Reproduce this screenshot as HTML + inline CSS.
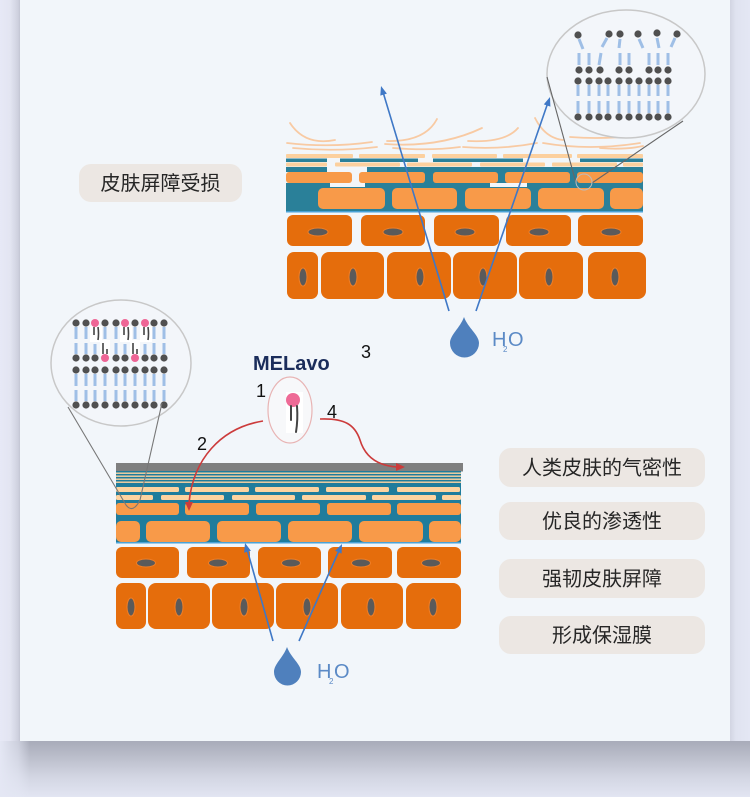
<!DOCTYPE html>
<html><head><meta charset="utf-8">
<style>
html,body{margin:0;padding:0;}
body{width:750px;height:797px;overflow:hidden;background:#e4e7f4;position:relative;font-family:"Liberation Sans","Noto Sans CJK SC",sans-serif;}
#lft{position:absolute;left:0;top:0;width:20px;height:741px;background:linear-gradient(to right,#e7e9f6 0%,#e3e5f2 50%,#d0d2e0 88%,#c4c6d4 100%);}
#rgt{position:absolute;left:730px;top:0;width:20px;height:741px;background:linear-gradient(to left,#e4e7f4 0%,#e0e3f0 70%,#d2d5e2 100%);}
#bot{position:absolute;left:0;top:741px;width:750px;height:56px;background:linear-gradient(to bottom,#a8abb9 0%,#bcbfcc 30%,#d3d6e3 65%,#e2e5f2 100%);}
#botl{position:absolute;left:0;top:741px;width:30px;height:56px;background:linear-gradient(to right,#e4e7f4 0%,rgba(228,231,244,0.6) 60%,rgba(228,231,244,0) 100%);}
#card{position:absolute;left:20px;top:0;width:710px;height:741px;background:#f2f6fa;}
svg{position:absolute;left:0;top:0;}
.lbl{font-family:"Liberation Sans","Noto Sans CJK SC",sans-serif;font-size:20px;fill:#262626;}
.num{font-family:"Liberation Sans",sans-serif;font-size:18px;fill:#111;}
</style></head>
<body>
<div id="lft"></div><div id="rgt"></div><div id="bot"></div><div id="botl"></div>
<div id="card"></div>
<svg width="750" height="797" viewBox="0 0 750 797" xmlns="http://www.w3.org/2000/svg">

<!-- ===== TOP DIAGRAM ===== -->
<g fill="none" stroke="#f8caa3" stroke-width="1.8" stroke-linecap="round">
<path d="M290,123 Q305,146 335,140"/>
<path d="M287,143 Q330,148 372,142"/>
<path d="M293,148 Q335,152 377,147"/>
<path d="M387,141 Q425,142 437,119"/>
<path d="M385,144 Q440,148 482,128"/>
<path d="M393,148 Q430,151 460,147"/>
<path d="M468,141 Q505,143 518,128"/>
<path d="M463,147 Q500,150 537,143"/>
<path d="M535,118 Q545,138 563,140"/>
<path d="M543,143 Q590,151 640,143"/>
<path d="M570,137 Q610,140 642,134"/>
<path d="M600,148 Q625,150 643,146"/>
</g>

<g fill="#fcd09e">
<rect x="286" y="154" width="67" height="4" rx="1"/>
<rect x="359" y="154" width="66" height="4" rx="1"/>
<rect x="432" y="154" width="65" height="4" rx="1"/>
<rect x="503" y="154" width="69" height="4" rx="1"/>
<rect x="577" y="154" width="66" height="4" rx="1"/>
</g>
<g fill="#2a8099">
<rect x="286" y="158.5" width="41" height="3.5"/>
<rect x="340" y="158.5" width="78" height="3.5"/>
<rect x="433" y="158.5" width="90" height="3.5"/>
<rect x="580" y="158.5" width="63" height="3.5"/>
<rect x="286" y="167" width="41" height="5"/>
<rect x="367" y="167" width="276" height="16"/>
</g>
<g fill="#fcd09e">
<rect x="286" y="162.5" width="41" height="4" rx="1"/>
<rect x="335" y="162.5" width="65" height="4" rx="1"/>
<rect x="407" y="162.5" width="65" height="4" rx="1"/>
<rect x="480" y="162.5" width="65" height="4" rx="1"/>
<rect x="552" y="162.5" width="65" height="4" rx="1"/>
<rect x="623" y="162.5" width="20" height="4" rx="1"/>
</g>
<rect x="286" y="183" width="357" height="29" fill="#2a8099"/>
<rect x="330" y="183" width="35" height="4" fill="#f2f6fa"/>
<rect x="490" y="183" width="37" height="4" fill="#f2f6fa"/>
<rect x="286" y="211" width="357" height="1.5" fill="#4aa2d6"/>
<g fill="#f89a49">
<rect x="286" y="172" width="66" height="11" rx="3"/>
<rect x="359" y="172" width="66" height="11" rx="3"/>
<rect x="433" y="172" width="65" height="11" rx="3"/>
<rect x="505" y="172" width="65" height="11" rx="3"/>
<rect x="577" y="172" width="66" height="11" rx="3"/>
<rect x="318" y="188" width="67" height="21" rx="5"/>
<rect x="392" y="188" width="65" height="21" rx="5"/>
<rect x="465" y="188" width="66" height="21" rx="5"/>
<rect x="538" y="188" width="66" height="21" rx="5"/>
<rect x="610" y="188" width="33" height="21" rx="5"/>
</g>
<g fill="#e56d0c">
<rect x="287" y="215" width="65" height="31" rx="6"/>
<rect x="361" y="215" width="64" height="31" rx="6"/>
<rect x="434" y="215" width="65" height="31" rx="6"/>
<rect x="506" y="215" width="65" height="31" rx="6"/>
<rect x="578" y="215" width="65" height="31" rx="6"/>
<rect x="287" y="252" width="31" height="47" rx="7"/>
<rect x="321" y="252" width="63" height="47" rx="8"/>
<rect x="387" y="252" width="64" height="47" rx="8"/>
<rect x="453" y="252" width="64" height="47" rx="8"/>
<rect x="519" y="252" width="64" height="47" rx="8"/>
<rect x="588" y="252" width="58" height="47" rx="8"/>
</g>
<g fill="#5a5a5a" stroke="#f07e26" stroke-width="1">
<ellipse cx="318" cy="232" rx="10" ry="4"/>
<ellipse cx="393" cy="232" rx="10" ry="4"/>
<ellipse cx="465" cy="232" rx="10" ry="4"/>
<ellipse cx="539" cy="232" rx="10" ry="4"/>
<ellipse cx="611" cy="232" rx="10" ry="4"/>
<ellipse cx="303" cy="277" rx="4" ry="9"/>
<ellipse cx="353" cy="277" rx="4" ry="9"/>
<ellipse cx="420" cy="277" rx="4" ry="9"/>
<ellipse cx="483" cy="277" rx="4" ry="9"/>
<ellipse cx="549" cy="277" rx="4" ry="9"/>
<ellipse cx="615" cy="277" rx="4" ry="9"/>
</g>

<!-- top magnifier -->
<ellipse cx="626" cy="74" rx="79" ry="64" fill="#f3f6fa" stroke="#c8c8c8" stroke-width="1.5"/>
<line x1="547" y1="77" x2="576" y2="183" stroke="#666" stroke-width="1.1"/>
<line x1="683" y1="121" x2="592" y2="183" stroke="#666" stroke-width="1.1"/>
<circle cx="584" cy="182" r="8" fill="none" stroke="#bdbdbd" stroke-width="1"/>
<g stroke="#9fbfe6" stroke-width="3">
<line x1="578" y1="85" x2="578" y2="96"/><line x1="578" y1="101" x2="578" y2="113"/>
<line x1="589" y1="85" x2="589" y2="96"/><line x1="589" y1="101" x2="589" y2="113"/>
<line x1="599" y1="85" x2="599" y2="96"/><line x1="599" y1="101" x2="599" y2="113"/>
<line x1="608" y1="85" x2="608" y2="96"/><line x1="608" y1="101" x2="608" y2="113"/>
<line x1="619" y1="85" x2="619" y2="96"/><line x1="619" y1="101" x2="619" y2="113"/>
<line x1="629" y1="85" x2="629" y2="96"/><line x1="629" y1="101" x2="629" y2="113"/>
<line x1="639" y1="85" x2="639" y2="96"/><line x1="639" y1="101" x2="639" y2="113"/>
<line x1="649" y1="85" x2="649" y2="96"/><line x1="649" y1="101" x2="649" y2="113"/>
<line x1="658" y1="85" x2="658" y2="96"/><line x1="658" y1="101" x2="658" y2="113"/>
<line x1="668" y1="85" x2="668" y2="96"/><line x1="668" y1="101" x2="668" y2="113"/>
<line x1="579" y1="53" x2="579" y2="65"/>
<line x1="589" y1="53" x2="589" y2="65"/>
<line x1="601" y1="53" x2="599" y2="65"/>
<line x1="620" y1="53" x2="620" y2="65"/>
<line x1="629" y1="53" x2="629" y2="65"/>
<line x1="649" y1="53" x2="649" y2="65"/>
<line x1="658" y1="53" x2="658" y2="65"/>
<line x1="668" y1="53" x2="668" y2="65"/>
<line x1="579" y1="39" x2="583" y2="49"/>
<line x1="607" y1="38" x2="602" y2="47"/>
<line x1="620" y1="39" x2="619" y2="48"/>
<line x1="639" y1="39" x2="643" y2="48"/>
<line x1="657" y1="38" x2="659" y2="48"/>
<line x1="675" y1="38" x2="671" y2="47"/>
</g>
<g fill="#505050">
<circle cx="578" cy="117" r="3.6"/><circle cx="589" cy="117" r="3.6"/><circle cx="599" cy="117" r="3.6"/><circle cx="608" cy="117" r="3.6"/><circle cx="619" cy="117" r="3.6"/><circle cx="629" cy="117" r="3.6"/><circle cx="639" cy="117" r="3.6"/><circle cx="649" cy="117" r="3.6"/><circle cx="658" cy="117" r="3.6"/><circle cx="668" cy="117" r="3.6"/>
<circle cx="578" cy="81" r="3.6"/><circle cx="589" cy="81" r="3.6"/><circle cx="599" cy="81" r="3.6"/><circle cx="608" cy="81" r="3.6"/><circle cx="619" cy="81" r="3.6"/><circle cx="629" cy="81" r="3.6"/><circle cx="639" cy="81" r="3.6"/><circle cx="649" cy="81" r="3.6"/><circle cx="658" cy="81" r="3.6"/><circle cx="668" cy="81" r="3.6"/>
<circle cx="579" cy="70" r="3.6"/><circle cx="589" cy="70" r="3.6"/><circle cx="600" cy="70" r="3.6"/><circle cx="619" cy="70" r="3.6"/><circle cx="629" cy="70" r="3.6"/><circle cx="649" cy="70" r="3.6"/><circle cx="658" cy="70" r="3.6"/><circle cx="668" cy="70" r="3.6"/>
<circle cx="578" cy="35" r="3.6"/><circle cx="609" cy="34" r="3.6"/><circle cx="620" cy="34" r="3.6"/><circle cx="638" cy="34" r="3.6"/><circle cx="657" cy="33" r="3.6"/><circle cx="677" cy="34" r="3.6"/>
</g>

<!-- top blue arrows -->
<g stroke="#3f78c6" stroke-width="1.6">
<line x1="449" y1="311" x2="383.6" y2="94"/>
<line x1="476" y1="311" x2="547.1" y2="105"/>
</g>
<g fill="#3f78c6">
<polygon points="381,86 386.9,93.6 380.3,95.6"/>
<polygon points="550,97 550.4,106.6 543.8,104.4"/>
</g>
<path d="M464,317 C460,328 450,335 450,343 A14.5,14.5 0 0 0 479,343 C479,335 468,328 464,317 Z" fill="#4f80bd"/>
<text x="492" y="346" font-family="Liberation Sans,sans-serif" font-size="20" fill="#5b8ac6">H</text>
<text x="503" y="352" font-family="Liberation Sans,sans-serif" font-size="8" fill="#5b8ac6">2</text>
<text x="508" y="346" font-family="Liberation Sans,sans-serif" font-size="20" fill="#5b8ac6">O</text>

<text class="num" x="361" y="358">3</text>

<rect x="79" y="164" width="163" height="38" rx="12" fill="#ece7e3"/>
<text class="lbl" x="160.5" y="190" text-anchor="middle">皮肤屏障受损</text>

<!-- ===== BOTTOM DIAGRAM ===== -->
<ellipse cx="121" cy="363" rx="70" ry="63" fill="#f3f6fa" stroke="#c8c8c8" stroke-width="1.5"/>
<g fill="#fff">
<rect x="90" y="326" width="12" height="16"/>
<rect x="120" y="326" width="12" height="16"/>
<rect x="140" y="326" width="12" height="16"/>
<rect x="100" y="340" width="10" height="16"/>
<rect x="130" y="340" width="10" height="16"/>
</g>
<g stroke="#9fbfe6" stroke-width="3">
<line x1="76" y1="327" x2="76" y2="339"/><line x1="76" y1="343" x2="76" y2="354"/>
<line x1="86" y1="327" x2="86" y2="339"/><line x1="86" y1="343" x2="86" y2="354"/>
<line x1="105" y1="327" x2="105" y2="339"/>
<line x1="116" y1="327" x2="116" y2="339"/><line x1="116" y1="343" x2="116" y2="354"/>
<line x1="135" y1="327" x2="135" y2="339"/>
<line x1="154" y1="327" x2="154" y2="339"/><line x1="154" y1="343" x2="154" y2="354"/>
<line x1="164" y1="327" x2="164" y2="339"/><line x1="164" y1="343" x2="164" y2="354"/>
<line x1="95" y1="344" x2="95" y2="354"/>
<line x1="125" y1="344" x2="125" y2="354"/>
<line x1="145" y1="344" x2="145" y2="354"/>
<line x1="76" y1="374" x2="76" y2="386"/><line x1="76" y1="390" x2="76" y2="401"/>
<line x1="86" y1="374" x2="86" y2="386"/><line x1="86" y1="390" x2="86" y2="401"/>
<line x1="95" y1="374" x2="95" y2="386"/><line x1="95" y1="390" x2="95" y2="401"/>
<line x1="105" y1="374" x2="105" y2="386"/><line x1="105" y1="390" x2="105" y2="401"/>
<line x1="116" y1="374" x2="116" y2="386"/><line x1="116" y1="390" x2="116" y2="401"/>
<line x1="125" y1="374" x2="125" y2="386"/><line x1="125" y1="390" x2="125" y2="401"/>
<line x1="135" y1="374" x2="135" y2="386"/><line x1="135" y1="390" x2="135" y2="401"/>
<line x1="145" y1="374" x2="145" y2="386"/><line x1="145" y1="390" x2="145" y2="401"/>
<line x1="154" y1="374" x2="154" y2="386"/><line x1="154" y1="390" x2="154" y2="401"/>
<line x1="164" y1="374" x2="164" y2="386"/><line x1="164" y1="390" x2="164" y2="401"/>
</g>
<g stroke="#444" stroke-width="1.6" fill="none">
<path d="M94,327 L94,335"/><path d="M98,327 Q99,334 98,340"/>
<path d="M124,327 L124,335"/><path d="M128,327 Q129,334 128,340"/>
<path d="M144,327 L144,335"/><path d="M148,327 Q149,334 148,340"/>
<path d="M103,343 L103,354"/><path d="M107,349 L107,354"/>
<path d="M133,343 L133,354"/><path d="M137,349 L137,354"/>
</g>
<g fill="#505050">
<circle cx="76" cy="323" r="3.6"/><circle cx="86" cy="323" r="3.6"/><circle cx="105" cy="323" r="3.6"/><circle cx="116" cy="323" r="3.6"/><circle cx="135" cy="323" r="3.6"/><circle cx="154" cy="323" r="3.6"/><circle cx="164" cy="323" r="3.6"/>
<circle cx="76" cy="358" r="3.6"/><circle cx="86" cy="358" r="3.6"/><circle cx="95" cy="358" r="3.6"/><circle cx="116" cy="358" r="3.6"/><circle cx="125" cy="358" r="3.6"/><circle cx="145" cy="358" r="3.6"/><circle cx="154" cy="358" r="3.6"/><circle cx="164" cy="358" r="3.6"/>
<circle cx="76" cy="370" r="3.6"/><circle cx="86" cy="370" r="3.6"/><circle cx="95" cy="370" r="3.6"/><circle cx="105" cy="370" r="3.6"/><circle cx="116" cy="370" r="3.6"/><circle cx="125" cy="370" r="3.6"/><circle cx="135" cy="370" r="3.6"/><circle cx="145" cy="370" r="3.6"/><circle cx="154" cy="370" r="3.6"/><circle cx="164" cy="370" r="3.6"/>
<circle cx="76" cy="405" r="3.6"/><circle cx="86" cy="405" r="3.6"/><circle cx="95" cy="405" r="3.6"/><circle cx="105" cy="405" r="3.6"/><circle cx="116" cy="405" r="3.6"/><circle cx="125" cy="405" r="3.6"/><circle cx="135" cy="405" r="3.6"/><circle cx="145" cy="405" r="3.6"/><circle cx="154" cy="405" r="3.6"/><circle cx="164" cy="405" r="3.6"/>
</g>
<g fill="#ee6595">
<circle cx="95" cy="323" r="4"/><circle cx="125" cy="323" r="4"/><circle cx="145" cy="323" r="4"/>
<circle cx="105" cy="358" r="4"/><circle cx="135" cy="358" r="4"/>
</g>

<!-- MELavo -->
<text x="253" y="370" font-family="Liberation Sans,sans-serif" font-size="20" font-weight="bold" fill="#1b2d5b">MELavo</text>
<ellipse cx="290" cy="410" rx="22" ry="33" fill="#f7f8fa" stroke="#e8b4b4" stroke-width="1.2"/>
<rect x="286" y="392" width="17" height="41" fill="#ffffff"/>
<circle cx="293" cy="400" r="7" fill="#ee6a96"/>
<path d="M291,406 L291,420" stroke="#444" stroke-width="2" fill="none" stroke-linecap="round"/>
<path d="M297,406 Q298,420 296,432" stroke="#444" stroke-width="2" fill="none" stroke-linecap="round"/>
<text class="num" x="256" y="397">1</text>
<text class="num" x="197" y="450">2</text>
<text class="num" x="327" y="418">4</text>

<!-- bottom layers -->
<rect x="116" y="463" width="347" height="8.5" fill="#7f7f7f"/>
<rect x="116" y="471" width="345" height="72" fill="#1f7c9c"/>
<g fill="#fdd3a0">
<rect x="116" y="472.5" width="345" height="1.4"/>
<rect x="116" y="475.5" width="345" height="1.4"/>
<rect x="116" y="478.5" width="345" height="1.4"/>
<rect x="116" y="481.5" width="345" height="1.4"/>
<rect x="116" y="487" width="63" height="5" rx="1.5"/>
<rect x="185" y="487" width="64" height="5" rx="1.5"/>
<rect x="255" y="487" width="64" height="5" rx="1.5"/>
<rect x="326" y="487" width="63" height="5" rx="1.5"/>
<rect x="397" y="487" width="63" height="5" rx="1.5"/>
<rect x="116" y="495" width="37" height="5" rx="1.5"/>
<rect x="161" y="495" width="63" height="5" rx="1.5"/>
<rect x="232" y="495" width="63" height="5" rx="1.5"/>
<rect x="302" y="495" width="64" height="5" rx="1.5"/>
<rect x="372" y="495" width="64" height="5" rx="1.5"/>
<rect x="442" y="495" width="19" height="5" rx="1.5"/>
</g>
<g fill="#f89a49">
<rect x="116" y="503" width="63" height="12" rx="3"/>
<rect x="185" y="503" width="64" height="12" rx="3"/>
<rect x="256" y="503" width="64" height="12" rx="3"/>
<rect x="327" y="503" width="64" height="12" rx="3"/>
<rect x="397" y="503" width="64" height="12" rx="3"/>
<rect x="116" y="521" width="24" height="21" rx="5"/>
<rect x="146" y="521" width="64" height="21" rx="5"/>
<rect x="217" y="521" width="64" height="21" rx="5"/>
<rect x="288" y="521" width="64" height="21" rx="5"/>
<rect x="359" y="521" width="64" height="21" rx="5"/>
<rect x="429" y="521" width="32" height="21" rx="5"/>
</g>
<rect x="116" y="542" width="345" height="1.5" fill="#4aa3d8"/>
<g fill="#e56d0c">
<rect x="116" y="547" width="63" height="31" rx="6"/>
<rect x="187" y="547" width="63" height="31" rx="6"/>
<rect x="258" y="547" width="63" height="31" rx="6"/>
<rect x="328" y="547" width="64" height="31" rx="6"/>
<rect x="397" y="547" width="64" height="31" rx="6"/>
<rect x="116" y="583" width="30" height="46" rx="7"/>
<rect x="148" y="583" width="62" height="46" rx="8"/>
<rect x="212" y="583" width="62" height="46" rx="8"/>
<rect x="276" y="583" width="62" height="46" rx="8"/>
<rect x="341" y="583" width="62" height="46" rx="8"/>
<rect x="406" y="583" width="55" height="46" rx="8"/>
</g>
<g fill="#5a5a5a" stroke="#f07e26" stroke-width="1">
<ellipse cx="146" cy="563" rx="9.5" ry="4"/>
<ellipse cx="218" cy="563" rx="9.5" ry="4"/>
<ellipse cx="291" cy="563" rx="9.5" ry="4"/>
<ellipse cx="361" cy="563" rx="9.5" ry="4"/>
<ellipse cx="431" cy="563" rx="9.5" ry="4"/>
<ellipse cx="131" cy="607" rx="4" ry="9"/>
<ellipse cx="179" cy="607" rx="4" ry="9"/>
<ellipse cx="244" cy="607" rx="4" ry="9"/>
<ellipse cx="307" cy="607" rx="4" ry="9"/>
<ellipse cx="371" cy="607" rx="4" ry="9"/>
<ellipse cx="433" cy="607" rx="4" ry="9"/>
</g>

<!-- magnifier connector (over layers) -->
<path d="M68,407 L126,505 Q133,514 140,500 L162,403" fill="none" stroke="#777" stroke-width="1.1"/>

<!-- red arrows (over layers) -->
<path d="M263,421 C220,428 193,460 189,503" fill="none" stroke="#cc3b3b" stroke-width="1.6"/>
<polygon points="189,511 185,502 193,502" fill="#cc3b3b"/>
<path d="M320,419 C345,418 355,425 360,440 C366,460 382,466 397,467" fill="none" stroke="#cc3b3b" stroke-width="1.6"/>
<polygon points="405,467 396,463 396,471" fill="#cc3b3b"/>

<!-- bottom blue arrows -->
<g stroke="#3f78c6" stroke-width="1.6">
<line x1="273" y1="641" x2="247.5" y2="551"/>
<line x1="299" y1="641" x2="338.4" y2="552"/>
</g>
<g fill="#3f78c6">
<polygon points="245,543 250.9,550.7 244.1,552.7"/>
<polygon points="342,544 341.6,553.6 335.2,550.8"/>
</g>
<path d="M287,647 C283,658 274,664 274,672 A13.5,13.5 0 0 0 301,672 C301,664 291,658 287,647 Z" fill="#4f80bd"/>
<text x="317" y="678" font-family="Liberation Sans,sans-serif" font-size="20" fill="#5b8ac6">H</text>
<text x="329" y="684" font-family="Liberation Sans,sans-serif" font-size="8" fill="#5b8ac6">2</text>
<text x="334" y="678" font-family="Liberation Sans,sans-serif" font-size="20" fill="#5b8ac6">O</text>

<!-- right labels -->
<g fill="#ece7e3">
<rect x="499" y="448" width="206" height="39" rx="12"/>
<rect x="499" y="502" width="206" height="38" rx="12"/>
<rect x="499" y="559" width="206" height="39" rx="12"/>
<rect x="499" y="616" width="206" height="38" rx="12"/>
</g>
<text class="lbl" x="602" y="474.5" text-anchor="middle">人类皮肤的气密性</text>
<text class="lbl" x="602" y="528" text-anchor="middle">优良的渗透性</text>
<text class="lbl" x="602" y="585.5" text-anchor="middle">强韧皮肤屏障</text>
<text class="lbl" x="602" y="642" text-anchor="middle">形成保湿膜</text>
</svg>
</body></html>
